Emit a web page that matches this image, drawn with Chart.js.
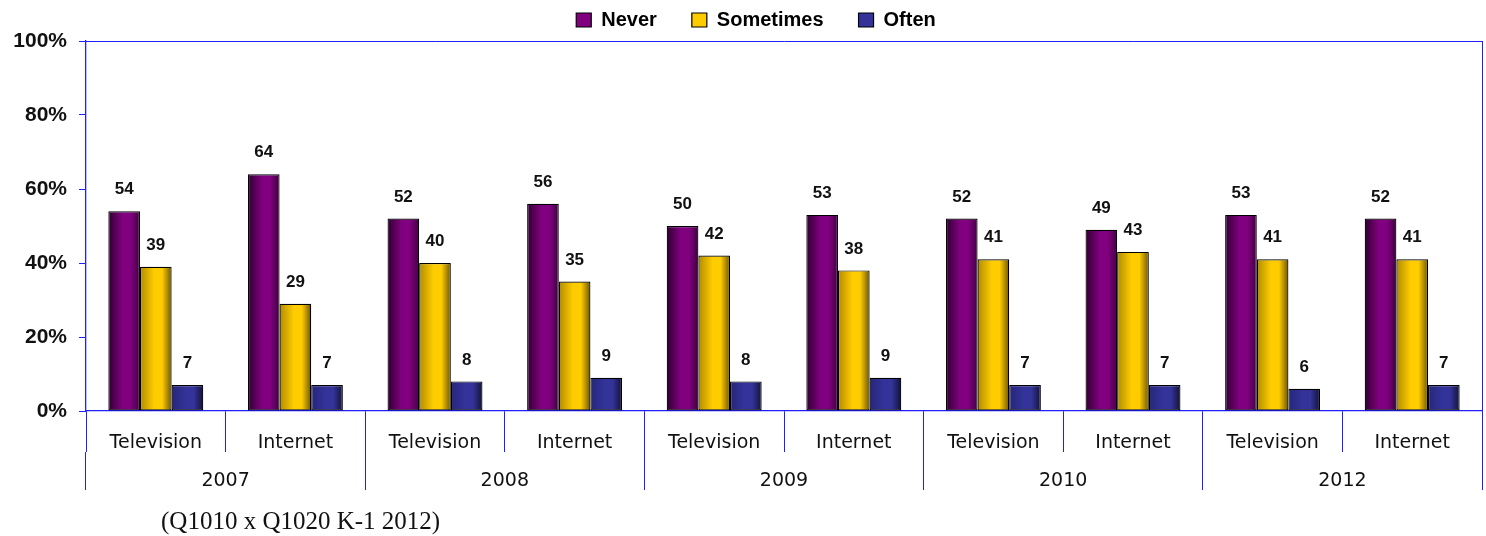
<!DOCTYPE html>
<html>
<head>
<meta charset="utf-8">
<script src="https://cdn.jsdelivr.net/npm/chart.js@4/dist/chart.umd.min.js"></script>
<style>
	body { margin: 0; background: #fff; }
	#wrap { position: relative; width: 1486px; height: 536px; }
	#note {
		position: absolute; left: 161px; top: 508px;
		font: 25px 'Liberation Serif', serif; line-height: 25px; color: #111;
	}
</style>
</head>
<body>
<div id="wrap">
	<canvas id="chart" width="1486" height="536"></canvas>
	<div id="note">(Q1010 x Q1020 K-1 2012)</div>
</div>
<script>
const media = ['Television', 'Internet', 'Television', 'Internet', 'Television', 'Internet', 'Television', 'Internet', 'Television', 'Internet'];
const years = ['2007', '2008', '2009', '2010', '2012'];
const never = [54, 64, 52, 56, 50, 53, 52, 49, 53, 52];
const sometimes = [39, 29, 40, 35, 42, 38, 41, 43, 41, 41];
const often = [7, 7, 8, 9, 8, 9, 7, 7, 6, 7];
const yTicks = [0, 20, 40, 60, 80, 100];
const legendColors = ['#800080', '#ffcc00', '#333399'];

const AXIS = '#1f1fff';
const CAT_PCT = 0.68;

// horizontal shading like the old office charts
const shade = (left, mid, right) => (c) => {
	const chart = c.chart;
	const xs = chart.scales.x;
	if (c.dataIndex === undefined || !xs || !chart.chartArea) return mid;
	const bw = (xs.width / media.length) * CAT_PCT / 3;
	const cx = xs.getPixelForValue(c.dataIndex) + (c.datasetIndex - 1) * bw;
	const g = chart.ctx.createLinearGradient(cx - bw / 2, 0, cx + bw / 2, 0);
	g.addColorStop(0, left);
	g.addColorStop(0.45, mid);
	g.addColorStop(0.7, mid);
	g.addColorStop(1, right);
	return g;
};

const valueLabels = {
	id: 'valueLabels',
	afterDatasetsDraw(chart) {
		const ctx = chart.ctx;
		ctx.save();
		ctx.font = 'bold 17px "Liberation Sans", Arial, sans-serif';
		ctx.fillStyle = '#111';
		ctx.textAlign = 'center';
		ctx.textBaseline = 'bottom';
		chart.data.datasets.forEach((ds, i) => {
			chart.getDatasetMeta(i).data.forEach((bar, j) => {
				ctx.fillText(ds.data[j], bar.x, bar.y - 13);
			});
		});
		ctx.restore();
	}
};

const borderOnly = (position, axis, size) => ({
	type: 'linear',
	position: position,
	axis: axis,
	ticks: { display: false },
	grid: { display: false, drawTicks: false },
	border: { display: true, color: AXIS, width: 1 },
	afterFit(s) {
		if (axis === 'x') s.height = size; else s.width = size;
	}
});

new Chart(document.getElementById('chart'), {
	type: 'bar',
	data: {
		labels: media,
		datasets: [
			{ label: 'Never', data: never, backgroundColor: shade('#300030', '#800080', '#40003f') },
			{ label: 'Sometimes', data: sometimes, backgroundColor: shade('#b08c00', '#ffcc00', '#6e5600') },
			{ label: 'Often', data: often, backgroundColor: shade('#26267a', '#333399', '#121236') }
		]
	},
	options: {
		responsive: false,
		animation: false,
		events: [],
		layout: { padding: { left: 0, right: -26, top: -25, bottom: 46 } },
		datasets: {
			bar: {
				xAxisID: 'x',
				yAxisID: 'y',
				categoryPercentage: CAT_PCT,
				barPercentage: 1,
				borderColor: '#000',
				borderWidth: 1.2,
				borderSkipped: false
			}
		},
		plugins: {
			legend: {
				position: 'top',
				maxHeight: 60,
				labels: {
					boxWidth: 15,
					boxHeight: 14,
					padding: 35,
					color: '#000',
					font: { family: 'Liberation Sans', weight: 'bold', size: 20 },
					generateLabels(chart) {
						const items = Chart.defaults.plugins.legend.labels.generateLabels(chart);
						items.forEach((it, i) => { it.fillStyle = legendColors[i]; it.strokeStyle = '#000'; });
						return items;
					}
				}
			},
			tooltip: { enabled: false }
		},
		scales: {
			x: {
				weight: 0,
				grid: { display: true, offset: true, drawOnChartArea: false, tickLength: 41, tickColor: AXIS, color: AXIS },
				border: { display: true, color: AXIS, width: 1.3 },
				ticks: {
					padding: -20,
					maxRotation: 0,
					autoSkip: false,
					color: '#111',
					font: { family: 'DejaVu Sans', size: 19 }
				},
				afterFit(s) { s.height = 41; }
			},
			x2: {
				type: 'category',
				labels: years,
				position: 'bottom',
				weight: 1,
				grid: { display: true, offset: true, drawOnChartArea: false, tickLength: 38, tickColor: AXIS, color: AXIS },
				border: { display: false },
				ticks: {
					padding: -20,
					maxRotation: 0,
					autoSkip: false,
					color: '#111',
					font: { family: 'DejaVu Sans', size: 19 }
				},
				afterFit(s) { s.height = 38; }
			},
			y: {
				min: 0,
				max: 100,
				afterBuildTicks(s) { s.ticks = yTicks.map(v => ({ value: v })); },
				grid: { display: true, drawOnChartArea: false, tickLength: 7, tickColor: AXIS, color: AXIS },
				border: { display: true, color: AXIS, width: 1.3 },
				ticks: {
					padding: 12,
					color: '#111',
					font: { family: 'Liberation Sans', weight: 'bold', size: 21 },
					callback: (v) => v + '%'
				},
				afterFit(s) { s.width = 86; }
			},
			xTop: borderOnly('top', 'x', 6),
			yRight: borderOnly('right', 'y', 30)
		}
	},
	plugins: [valueLabels]
});
</script>
</body>
</html>
